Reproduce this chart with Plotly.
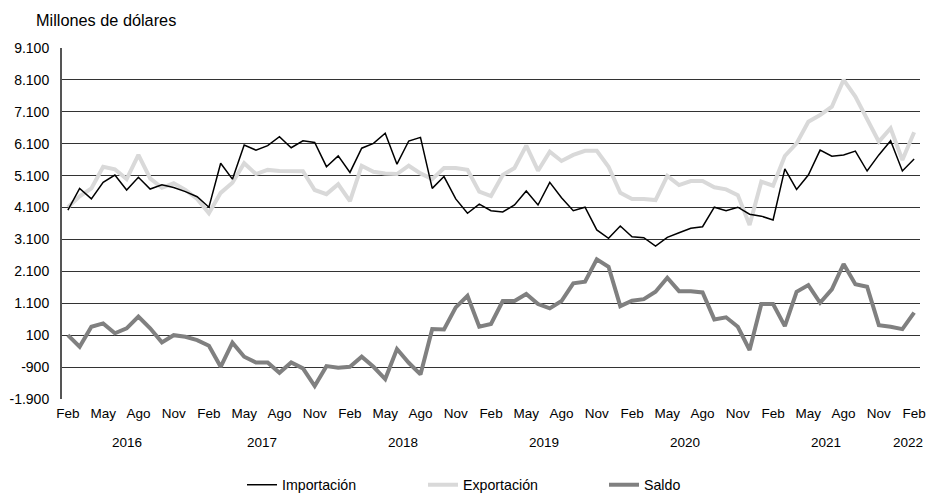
import plotly.graph_objects as go

# Monthly data Feb 2016 - Feb 2022 (73 months), millions of dollars
importacion = [4020, 4700, 4370, 4890, 5120, 4650, 5050, 4680, 4810, 4730,
               4600, 4440, 4110, 5490, 4990, 6060, 5900, 6040, 6320, 5975,
               6190, 6140, 5380, 5720, 5200, 5960, 6110, 6430, 5460, 6185,
               6300, 4700, 5070, 4370, 3920, 4210, 4000, 3960, 4180, 4620,
               4180, 4890, 4410, 4000, 4110, 3400, 3135, 3520, 3185, 3155,
               2895, 3165, 3310, 3450, 3500, 4110, 4000, 4110, 3890, 3830,
               3710, 5310, 4670, 5120, 5900, 5710, 5750, 5870, 5245, 5750,
               6195, 5245, 5620]
exportacion = [4110, 4450, 4700, 5380, 5300, 4990, 5750, 5015, 4720, 4860,
               4650, 4370, 3920, 4560, 4880, 5490, 5150, 5280, 5245, 5240,
               5240, 4650, 4520, 4830, 4300, 5410, 5220, 5170, 5150, 5410,
               5170, 4990, 5340, 5340, 5280, 4600, 4460, 5120, 5340, 6040,
               5255, 5850, 5560, 5750, 5880, 5880, 5380, 4560, 4370, 4370,
               4335, 5090, 4805, 4930, 4930, 4735, 4670, 4490, 3550, 4910,
               4785, 5715, 6110, 6790, 7000, 7260, 8100, 7575, 6845, 6165,
               6585, 5590, 6460]
saldo = [100, -260, 365, 470, 160, 315, 680, 315, -125, 100,
         50, -55, -230, -890, -135, -575, -755, -755, -1080, -755,
         -940, -1495, -870, -920, -890, -575, -890, -1275, -335, -765,
         -1130, 290, 280, 970, 1335, 365, 450, 1170, 1170, 1390,
         1075, 940, 1170, 1725, 1775, 2480, 2245, 1010, 1180, 1230,
         1460, 1900, 1480, 1480, 1440, 595, 660, 365, -365, 1075,
         1075, 385, 1460, 1670, 1115, 1535, 2330, 1695, 1620, 415,
         365, 290, 805]

month_idx = list(range(len(saldo)))
tick_idx = list(range(0, 73, 3))
tick_months = ["Feb", "May", "Ago", "Nov"] * 6 + ["Feb"]
years = ["2016", "2017", "2018", "2019", "2020", "2021", "2022"]
year_centers = [5, 16.5, 28.5, 40.5, 52.5, 64.5, 71.5]
y_ticks = list(range(-1900, 9101, 1000))
y_tick_text = [f"{v:,}".replace(",", ".") for v in y_ticks]

FONT = "Liberation Sans, Arial, sans-serif"

fig = go.Figure()
fig.add_trace(go.Scatter(x=month_idx, y=exportacion, mode="lines", name="Exportación",
                         line=dict(color="#d9d9d9", width=4), legendrank=2))
fig.add_trace(go.Scatter(x=month_idx, y=importacion, mode="lines", name="Importación",
                         line=dict(color="#000000", width=1.5), legendrank=1))
fig.add_trace(go.Scatter(x=month_idx, y=saldo, mode="lines", name="Saldo",
                         line=dict(color="#808080", width=4), legendrank=3))

for yr, xc in zip(years, year_centers):
    fig.add_annotation(x=xc, y=-1900, xref="x", yref="y", text=yr, showarrow=False,
                       yshift=-43, font=dict(size=13.5, color="#000"))

fig.update_layout(
    width=926, height=493,
    margin=dict(l=62, r=6, t=48, b=94, autoexpand=False),
    paper_bgcolor="white", plot_bgcolor="white",
    font=dict(family=FONT, size=13.5, color="#000"),
    title=dict(text="Millones de dólares", x=0, xref="container", xanchor="left",
               y=1 - 20/493, yref="container", yanchor="middle",
               pad=dict(l=36), font=dict(size=16.3, color="#000")),
    legend=dict(orientation="h", x=242/926, xref="container", xanchor="left",
                y=8/493, yref="container", yanchor="middle",
                traceorder="normal", font=dict(size=14.2),
                entrywidth=136, entrywidthmode="pixels"),
    showlegend=True,
)
fig.update_xaxes(range=[-0.5, 72.5], tickmode="array", tickvals=tick_idx, ticktext=tick_months,
                 showgrid=False, showline=False, zeroline=False, ticks="", automargin=False,
                 ticklabelstandoff=4, tickfont=dict(size=13.5))
fig.update_yaxes(range=[-1900, 9100], tickmode="array", tickvals=y_ticks, ticktext=y_tick_text,
                 showgrid=True, gridcolor="#333333", gridwidth=1.2, automargin=False,
                 showline=True, linecolor="#555555", linewidth=2, zeroline=False,
                 ticks="", ticklabelstandoff=8, tickfont=dict(size=14))

fig.write_html("out.html", config={"displayModeBar": False},
               post_script="document.body.style.margin='0';document.body.style.overflow='hidden';")
